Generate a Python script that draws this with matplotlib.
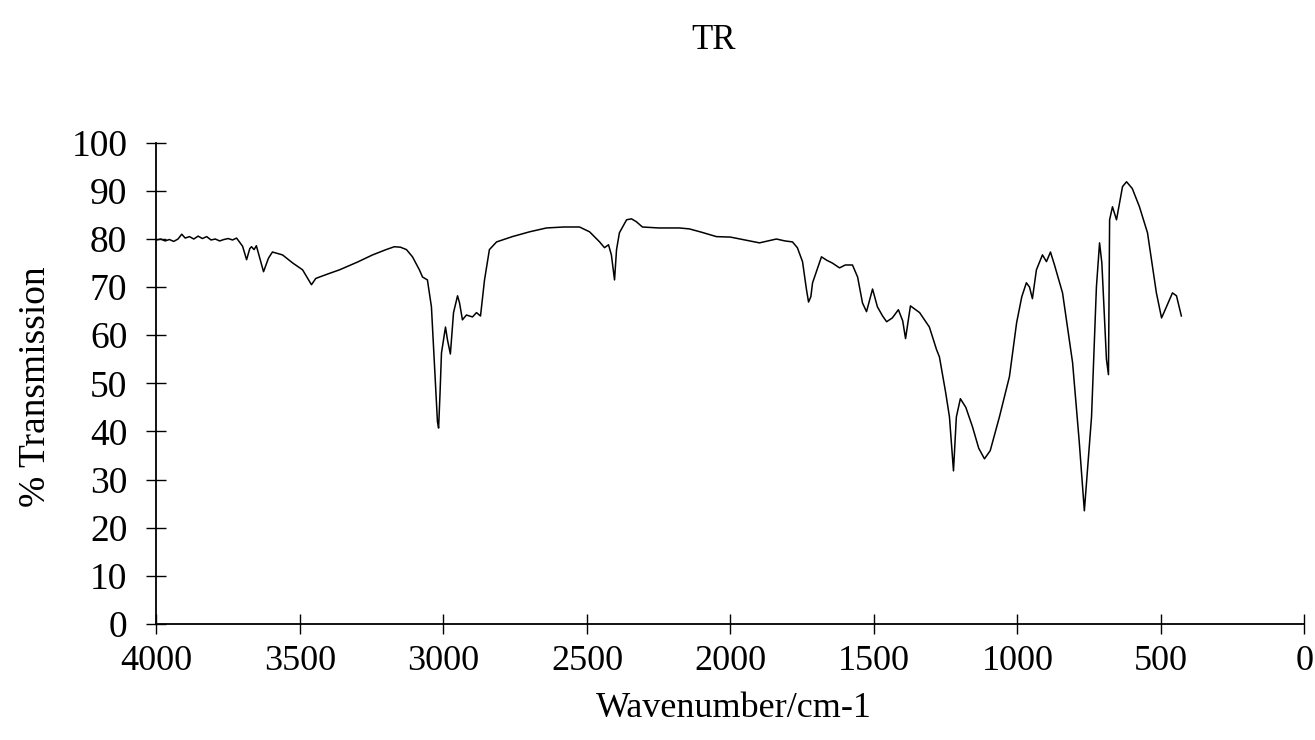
import matplotlib.pyplot as plt

plt.rcParams['font.family'] = ['Liberation Serif', 'DejaVu Serif']

# IR spectrum (wavenumber cm-1, % transmission)
wavenumber = [4000, 3985, 3970, 3955, 3940, 3925, 3912, 3900, 3885, 3870,
              3855, 3840, 3825, 3810, 3795, 3780, 3765, 3750, 3735, 3721,
              3700, 3686, 3675, 3669, 3660, 3652, 3640, 3627, 3610, 3596,
              3561, 3525, 3491, 3470, 3460, 3445, 3432, 3400, 3362, 3300,
              3247, 3200, 3171, 3150, 3129, 3108, 3084, 3073, 3056, 3042,
              3031, 3021, 3017, 3012, 3007, 2993, 2986, 2976, 2965, 2951,
              2944, 2934, 2920, 2899, 2885, 2871, 2857, 2840, 2815, 2760,
              2700, 2641, 2580, 2526, 2491, 2456, 2439, 2425, 2415, 2404,
              2397, 2387, 2362, 2345, 2328, 2307, 2250, 2178, 2143, 2100,
              2049, 2000, 1950, 1899, 1870, 1840, 1810, 1784, 1767, 1749,
              1735, 1728, 1720, 1714, 1683, 1665, 1645, 1620, 1600, 1575,
              1557, 1540, 1526, 1505, 1488, 1470, 1456, 1436, 1415, 1400,
              1390, 1373, 1341, 1307, 1282, 1272, 1250, 1237, 1223, 1213,
              1199, 1180, 1157, 1135, 1115, 1095, 1063, 1028, 1003, 985,
              969, 958, 948, 934, 913, 899, 885, 871, 843, 808,
              785, 767, 755, 742, 725, 714, 706, 697, 690, 683,
              679, 669, 655, 634, 620, 600, 575, 547, 516, 498,
              481, 460, 446, 429]
transmission = [79.8, 80.0, 79.6, 79.9, 79.5, 80.0, 81.0, 80.2, 80.5, 80.0,
                80.6, 80.1, 80.5, 79.8, 80.0, 79.6, 79.9, 80.1, 79.8, 80.2,
                78.5, 75.7, 78.0, 78.4, 77.8, 78.6, 76.0, 73.2, 76.0, 77.3,
                76.7, 75.0, 73.6, 71.5, 70.5, 71.8, 72.1, 72.8, 73.6, 75.2,
                76.7, 77.8, 78.4, 78.3, 77.8, 76.3, 73.6, 72.1, 71.5, 65.9,
                53.4, 42.0, 40.7, 48.0, 56.3, 61.7, 59.0, 56.1, 64.7, 68.2,
                66.7, 63.2, 64.2, 63.8, 64.7, 64.0, 71.5, 77.8, 79.4, 80.5,
                81.5, 82.3, 82.5, 82.5, 81.5, 79.4, 78.2, 78.8, 76.7, 71.5,
                77.8, 81.3, 84.0, 84.2, 83.6, 82.5, 82.3, 82.3, 82.1, 81.4,
                80.5, 80.4, 79.8, 79.2, 79.6, 80.0, 79.6, 79.4, 78.2, 75.3,
                69.4, 66.9, 68.0, 70.9, 76.3, 75.6, 75.0, 74.0, 74.6, 74.6,
                72.1, 66.7, 64.9, 69.6, 65.9, 64.0, 62.8, 63.6, 65.3, 63.0,
                59.3, 66.1, 64.7, 61.7, 57.0, 55.5, 48.0, 43.0, 31.8, 43.0,
                46.8, 45.0, 41.0, 36.5, 34.3, 36.0, 43.0, 51.4, 62.6, 68.0,
                70.9, 70.0, 67.6, 73.6, 76.7, 75.3, 77.3, 74.6, 68.8, 54.3,
                38.0, 23.5, 33.0, 43.0, 70.0, 79.2, 75.0, 63.8, 55.0, 51.8,
                84.0, 86.7, 84.0, 90.9, 91.9, 90.5, 86.7, 81.3, 68.8, 63.6,
                65.9, 68.8, 68.2, 64.0]

x_ticks = [4000, 3500, 3000, 2500, 2000, 1500, 1000, 500, 0]
y_ticks = list(range(0, 101, 10))

fig = plt.figure(figsize=(13.15, 7.4), dpi=100)
ax = fig.add_axes([0.119, 0.157, 0.873, 0.650])

ax.plot(wavenumber, transmission, color='black', linewidth=1.1)

ax.set_xlim(4000, 0)
ax.set_ylim(0, 100)
ax.set_xticks(x_ticks)
ax.set_yticks(y_ticks)
ax.tick_params(direction='inout', length=14, width=1)
ax.tick_params(axis='x', labelsize=26, pad=8)
ax.tick_params(axis='y', labelsize=27, pad=14)

for side in ['top', 'right']:
    ax.spines[side].set_visible(False)
for side in ['left', 'bottom']:
    ax.spines[side].set_linewidth(1.3)

fig.text(0.543, 0.945, 'TR', ha='center', va='center', fontsize=25)
fig.text(0.558, 0.043, 'Wavenumber/cm-1', ha='center', va='center', fontsize=26)
fig.text(0.027, 0.477, '% Transmission', ha='center', va='center',
         rotation=90, fontsize=27)

fig.savefig('out.png', dpi=100)
